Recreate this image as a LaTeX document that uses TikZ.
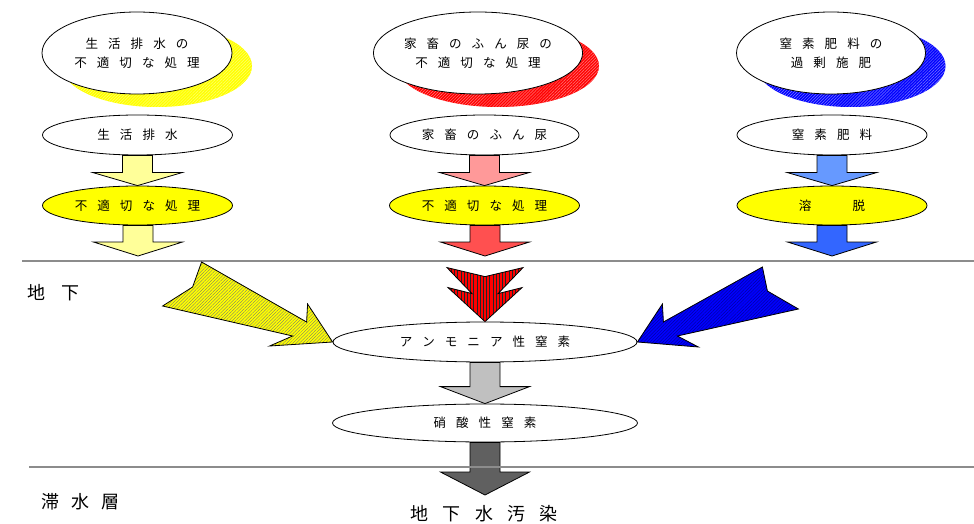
\documentclass[tikz,border=0pt]{standalone}
\usepackage{fontspec}
\newfontfamily\jp{Noto Sans CJK JP}
\usetikzlibrary{shapes.geometric,patterns.meta,calc}
\definecolor{lyel}{HTML}{FFFF99}
\definecolor{pinkA}{HTML}{FF9999}
\definecolor{redB}{HTML}{FF5050}
\definecolor{lblue}{HTML}{6699FF}
\definecolor{mblue}{HTML}{3366FF}
\definecolor{lgray}{HTML}{C0C0C0}
\definecolor{dgray}{HTML}{606060}
\definecolor{yelX}{HTML}{FFFF00}
\definecolor{redX}{HTML}{FF0000}
\definecolor{bluX}{HTML}{0000FF}
\definecolor{lineG}{HTML}{8C8C8C}
\newcommand\gp{\hspace{0.8em}}
\newcommand\blockarrow[4]{%
  \draw[line width=0.6pt, fill=#4] let \p1=(#1), \p2=(#2) in
    (\x2-11.25pt,\y1) -- (\x2+11.25pt,\y1) -- (\x2+11.25pt,\y2+#3) --
    (\x2+33.4pt,\y2+#3) -- (\p2) -- (\x2-33.4pt,\y2+#3) --
    (\x2-11.25pt,\y2+#3) -- cycle;}
\tikzset{
  oval/.style={ellipse, draw=black, line width=0.6pt, inner sep=0pt, fill=white, align=center},
  yoval/.style={oval, fill=yelX},
  shadowY/.style={ellipse, inner sep=0pt, preaction={fill=yelX},
    pattern={Lines[angle=45,distance=1.6pt,line width=0.35pt]}, pattern color=yelX!55!white},
  shadowR/.style={ellipse, inner sep=0pt, preaction={fill=redX},
    pattern={Lines[angle=45,distance=1.6pt,line width=0.35pt]}, pattern color=redX!50!white},
  shadowB/.style={ellipse, inner sep=0pt, preaction={fill=bluX},
    pattern={Lines[angle=45,distance=1.6pt,line width=0.35pt]}, pattern color=bluX!50!white},
  hatchY/.style={draw=black, line width=0.6pt, preaction={fill=yelX},
    pattern={Lines[angle=45,distance=1.7pt,line width=0.25pt]}, pattern color=black!55},
  hatchB/.style={draw=black, line width=0.6pt, preaction={fill=bluX},
    pattern={Lines[angle=45,distance=1.7pt,line width=0.25pt]}, pattern color=bluX!55!black},
  hatchR/.style={draw=black, line width=0.6pt, preaction={fill=redX},
    pattern={Lines[angle=90,distance=2.4pt,line width=0.25pt]}, pattern color=black!85},
  groundline/.style={draw=lineG, line width=1.1pt},
  biglabel/.style={font=\jp\fontsize{13.5}{16}\selectfont, inner sep=0pt},
}
\begin{document}
\begin{tikzpicture}[x=0.75pt,y=-0.75pt, font=\jp\fontsize{9.4}{14.25}\selectfont]
\useasboundingbox (0,0) rectangle (974,524);

% ground lines
\draw[groundline] (22,261) -- (974,261);
\draw[groundline] (29,467) -- (974,467);

% top ellipses with shadows
\node[shadowY, minimum width={190*0.75pt}, minimum height={82*0.75pt}] (s1) at (157,66) {};
\node[oval, minimum width={190*0.75pt}, minimum height={82*0.75pt}] (t1) at (137,53)
  {生\gp 活\gp 排\gp 水\gp の\\不\gp 適\gp 切\gp な\gp 処\gp 理};
\node[shadowR, minimum width={202*0.75pt}, minimum height={82*0.75pt}] (s2) at (498,66) {};
\node[oval, minimum width={202*0.75pt}, minimum height={82*0.75pt}] (t2) at (478,53)
  {家\gp 畜\gp の\gp ふ\gp ん\gp 尿\gp の\\不\gp 適\gp 切\gp な\gp 処\gp 理};
\node[shadowB, minimum width={189*0.75pt}, minimum height={82*0.75pt}] (s3) at (851,66) {};
\node[oval, minimum width={189*0.75pt}, minimum height={82*0.75pt}] (t3) at (831,53)
  {窒\gp 素\gp 肥\gp 料\gp の\\過\gp 剰\gp 施\gp 肥};

% second row
\node[oval, minimum width={190*0.75pt}, minimum height={40*0.75pt}] (a1) at (137.5,135) {生\gp 活\gp 排\gp 水};
\node[oval, minimum width={189*0.75pt}, minimum height={40*0.75pt}] (a2) at (484.5,135) {家\gp 畜\gp の\gp ふ\gp ん\gp 尿};
\node[oval, minimum width={190*0.75pt}, minimum height={40*0.75pt}] (a3) at (832,135) {窒\gp 素\gp 肥\gp 料};

% third row
\node[yoval, minimum width={190*0.75pt}, minimum height={39*0.75pt}] (b1) at (137.5,205.5) {不\gp 適\gp 切\gp な\gp 処\gp 理};
\node[yoval, minimum width={190*0.75pt}, minimum height={39*0.75pt}] (b2) at (484.5,205.5) {不\gp 適\gp 切\gp な\gp 処\gp 理};
\node[yoval, minimum width={190*0.75pt}, minimum height={39*0.75pt}] (b3) at (832,205.5) {溶\hspace{31pt}脱};

\coordinate (e1) at (138,256);
\coordinate (e2) at (485,256);
\coordinate (e3) at (832,256);

\blockarrow{a1.south}{b1.north}{9.75pt}{lyel}
\blockarrow{a2.south}{b2.north}{9.75pt}{pinkA}
\blockarrow{a3.south}{b3.north}{9.75pt}{lblue}
\blockarrow{b1.south}{e1}{10.5pt}{lyel}
\blockarrow{b2.south}{e2}{10.5pt}{redB}
\blockarrow{b3.south}{e3}{10.5pt}{mblue}

% underground
\node[oval, minimum width={304*0.75pt}, minimum height={40*0.75pt}] (am) at (485,342)
  {ア\gp ン\gp モ\gp ニ\gp ア\gp 性\gp 窒\gp 素};
\node[oval, minimum width={305*0.75pt}, minimum height={38*0.75pt}] (ni) at (485,423)
  {硝\gp 酸\gp 性\gp 窒\gp 素};
\coordinate (gw) at (485,495);

% converging arrows
\draw[hatchY] (am.west) -- ++(-63,4) -- ++(23,-10) -- ++(-130,-30) -- ++(30,-19)
  -- ++(9,-25) -- ++(105,60) -- ++(1,-18) -- cycle;
\draw[hatchB] (am.east) -- ++(61,5) -- ++(-21,-11) -- ++(121,-27) -- ++(-31,-18)
  -- ++(-5,-24) -- ++(-99,55) -- ++(-1,-18) -- cycle;
\draw[hatchR] (am.north) -- ($(am.north)+(-37,-34)$) -- ($(am.north)+(-13,-28)$)
  -- ($(am.north)+(-38,-54)$) -- ($(am.north)+(0,-45)$) -- ($(am.north)+(38,-54)$)
  -- ($(am.north)+(13,-28)$) -- ($(am.north)+(37,-34)$) -- cycle;

\blockarrow{am.south}{ni.north}{12.75pt}{lgray}
\blockarrow{ni.south}{gw}{17.25pt}{dgray}
\draw[groundline] (440,467) -- (530,467);

% labels
\node[biglabel, anchor=west] (l1) at (27,293) {地\hspace{0.88em}下};
\node[biglabel, anchor=west] (l2) at (41,502) {滞\hspace{0.67em}水\hspace{0.67em}層};
\node[biglabel] (l3) at (484,514) {地\gp 下\gp 水\gp 汚\gp 染};
\end{tikzpicture}
\end{document}
